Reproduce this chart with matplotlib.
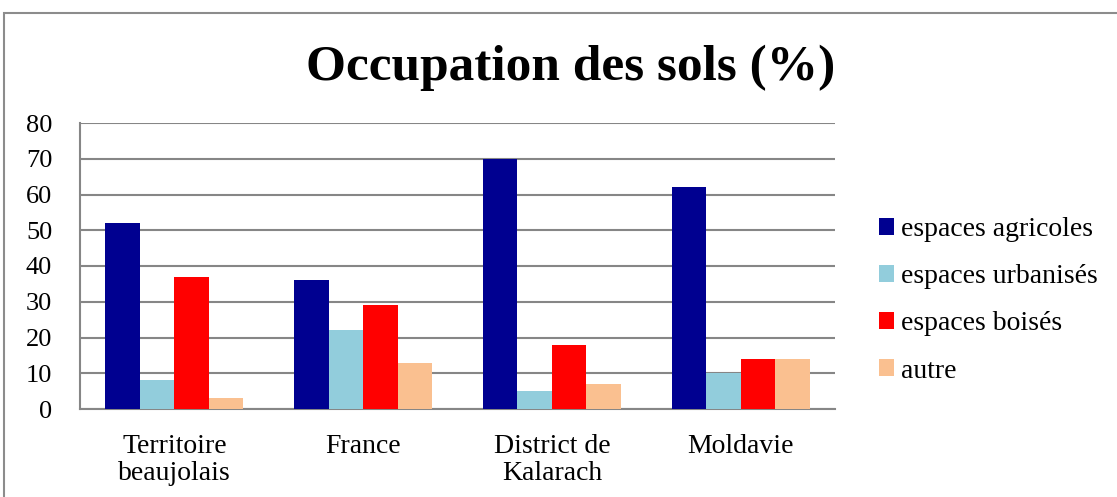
import matplotlib.pyplot as plt
import matplotlib.patches as patches
import numpy as np

categories = ['Territoire\nbeaujolais', 'France', 'District de\nKalarach', 'Moldavie']
series = ['espaces agricoles', 'espaces urbanisés', 'espaces boisés', 'autre']
agricoles = [52, 36, 70, 62]
urbanises = [8, 22, 5, 10]
boises = [37, 29, 18, 14]
autre = [3, 13, 7, 14]
colors = ['#000090', '#92CDDC', '#FF0000', '#FAC090']

plt.rcParams['font.family'] = ['Liberation Serif', 'DejaVu Serif']

fig = plt.figure(figsize=(11.17, 4.97), dpi=100)
W, H = 1117, 497
ax = fig.add_axes([80 / W, 1 - 409 / H, 755 / W, 286 / H])

# outer frame of the chart object
fig.patches.append(patches.Rectangle((4 / W, -0.1), 1.2, 1 - 13 / H + 0.1,
                                     transform=fig.transFigure, fill=False,
                                     edgecolor='#8c8c8c', linewidth=1.5))

x = np.arange(len(categories))
width = 0.183
values = [agricoles, urbanises, boises, autre]
for i, (name, vals) in enumerate(zip(series, values)):
    ax.bar(x + (i - 1.5) * width, vals, width, color=colors[i], label=name,
           zorder=3)

ax.set_xlim(-0.5, len(categories) - 0.5)
ax.set_ylim(0, 80)
ax.set_yticks(range(0, 81, 10))
ax.yaxis.grid(True, color='#868686', linewidth=1.5, zorder=0)
ax.set_axisbelow(True)
for side in ['top', 'right']:
    ax.spines[side].set_visible(False)
ax.spines['left'].set_color('#868686')
ax.spines['left'].set_linewidth(1.5)
ax.spines['bottom'].set_color('#868686')
ax.spines['bottom'].set_linewidth(1.5)
ax.tick_params(axis='y', length=0, pad=20, labelsize=19)
ax.tick_params(axis='x', length=0, pad=18, labelsize=20)
ax.set_xticks(x)
ax.set_xticklabels(categories, linespacing=1.12)

fig.text(571 / W, 1 - 68 / H, 'Occupation des sols (%)', ha='center',
         va='center', fontsize=37, fontweight='bold')

ax.legend(loc='center left', bbox_to_anchor=(1.043, 0.38), frameon=False,
          fontsize=20, handlelength=0.55, handleheight=0.55, handletextpad=0.25,
          labelspacing=0.8, borderaxespad=0)

plt.savefig('out.png', dpi=100)
